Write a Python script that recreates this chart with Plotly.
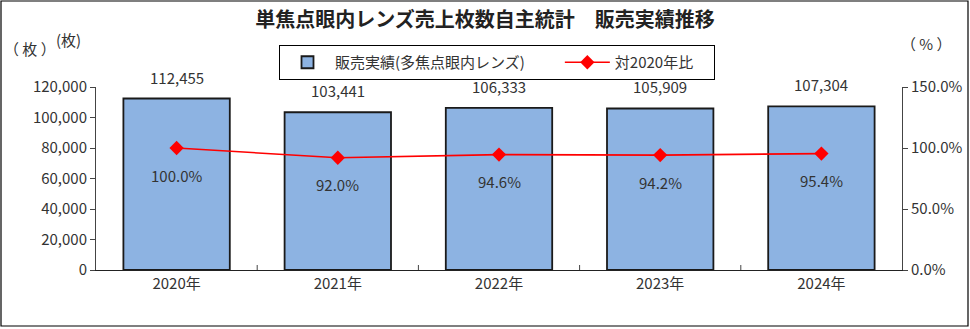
import plotly.graph_objects as go

# Sales data
years = ["2020年", "2021年", "2022年", "2023年", "2024年"]
units = [112455, 103441, 106333, 105909, 107304]
ratio_pct = [100.0, 92.0, 94.6, 94.2, 95.4]

FONT = "Noto Sans CJK JP"
TXT = "#333333"

# Plot area in pixels
L, R, T, B = 96, 68, 87, 59
W, H = 970, 329
PW, PH = W - L - R, H - T - B


def px_x(x):
    return (x - L) / PW


def px_y(y):
    return (H - B - y) / PH


fig = go.Figure()

fig.add_trace(go.Bar(
    x=years, y=units, name="販売実績(多焦点眼内レンズ)　　",
    marker=dict(color="#8DB3E2", line=dict(color="#1a1a1a", width=1.8)),
    width=0.66, yaxis="y",
))

fig.add_trace(go.Scatter(
    x=years, y=[v / 100 for v in ratio_pct], name="対2020年比　",
    mode="lines+markers", yaxis="y2",
    line=dict(color="#FF0000", width=1.6),
    marker=dict(symbol="diamond", size=11, color="#FF0000"),
))

annotations = []
for yr, v in zip(years, units):
    annotations.append(dict(
        x=yr, y=v, xref="x", yref="y", text=f"{v:,}", showarrow=False,
        xanchor="center", yanchor="bottom", yshift=9,
        font=dict(family=FONT, size=15, color=TXT),
    ))
for yr, p in zip(years, ratio_pct):
    annotations.append(dict(
        x=yr, y=p / 100, xref="x", yref="y2", text=f"{p:.1f}%", showarrow=False,
        xanchor="center", yanchor="middle", yshift=-27,
        font=dict(family=FONT, size=15, color=TXT),
    ))

# Axis unit labels
unit_font = dict(family=FONT, size=15, color=TXT)
annotations += [
    dict(x=px_x(30), y=px_y(48), xref="paper", yref="paper", text="（ 枚 ）",
         xanchor="center", yanchor="middle", showarrow=False, font=unit_font),
    dict(x=px_x(68), y=px_y(40), xref="paper", yref="paper", text="(枚)",
         xanchor="center", yanchor="middle", showarrow=False, font=unit_font),
    dict(x=px_x(927), y=px_y(44), xref="paper", yref="paper", text="（ % ）",
         xanchor="center", yanchor="middle", showarrow=False, font=unit_font),
]

fig.update_layout(
    width=W, height=H,
    margin=dict(l=L, r=R, t=T, b=B, autoexpand=False),
    paper_bgcolor="white", plot_bgcolor="white",
    title=dict(text="<b>単焦点眼内レンズ売上枚数自主統計　販売実績推移</b>",
               x=0.5, xanchor="center", y=1 - 20 / H, yanchor="middle",
               font=dict(family=FONT, size=20, color="#222222")),
    font=dict(family=FONT, size=15, color=TXT),
    showlegend=True,
    legend=dict(orientation="h", x=px_x(497), xanchor="center",
                y=px_y(45), yanchor="top",
                bordercolor="#000000", borderwidth=1,
                font=dict(family=FONT, size=15, color=TXT),
                itemwidth=45),
    xaxis=dict(showline=True, linecolor="#222222", linewidth=1,
               ticks="", showgrid=False,
               tickfont=dict(family=FONT, size=15, color=TXT)),
    yaxis=dict(range=[0, 120000], dtick=20000, tickformat=",",
               showline=True, linecolor="#444444", linewidth=1,
               ticks="outside", ticklen=5, tickcolor="#444444",
               showgrid=False, zeroline=False,
               tickfont=dict(family=FONT, size=15, color=TXT)),
    yaxis2=dict(range=[0, 1.5], dtick=0.5, tickformat=".1%",
                overlaying="y", side="right",
                showline=True, linecolor="#444444", linewidth=1,
                ticks="outside", ticklen=5, tickcolor="#444444",
                showgrid=False, zeroline=False,
                tickfont=dict(family=FONT, size=15, color=TXT)),
    annotations=annotations,
    shapes=[
        dict(type="rect", xref="paper", yref="paper",
             x0=px_x(1), x1=px_x(968), y0=px_y(326), y1=px_y(1),
             line=dict(color="#000000", width=1.2), layer="above"),
    ] + [
        # category separator ticks on the category axis
        dict(type="line", xref="x", yref="paper", x0=i + 0.5, x1=i + 0.5,
             y0=0, y1=px_y(265), line=dict(color="#444444", width=1))
        for i in range(len(years) - 1)
    ],
)

fig.write_html("out.html")
